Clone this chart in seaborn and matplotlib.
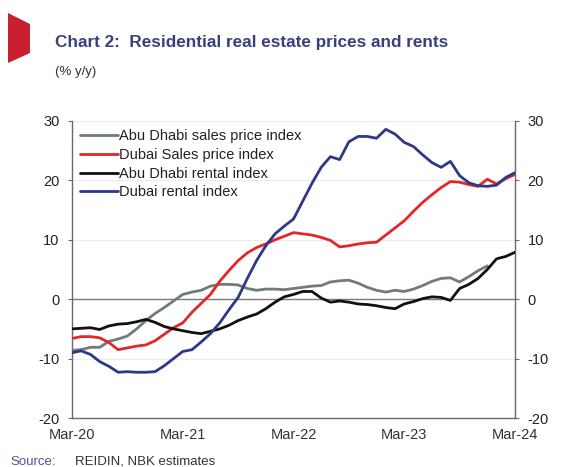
import matplotlib
matplotlib.use("Agg")
import matplotlib.pyplot as plt
from matplotlib.patches import Polygon
import numpy as np
import pandas as pd
import seaborn as sns

sns.set_style("white")
plt.rcParams['font.family'] = ['Liberation Sans', 'DejaVu Sans']
plt.rcParams['axes.unicode_minus'] = False

# Monthly, Mar-20 .. Mar-24 (49 months)
tick_labels = ["Mar-20", "Mar-21", "Mar-22", "Mar-23", "Mar-24"]

abu_dhabi_sales = [-8.6, -8.5, -8.1, -8.1, -7.1, -6.7, -6.2, -5.0, -3.6, -2.4,
                   -1.4, -0.3, 0.8, 1.2, 1.5, 2.2, 2.5, 2.5, 2.4, 1.8,
                   1.5, 1.7, 1.7, 1.6, 1.8, 2.0, 2.2, 2.3, 2.9, 3.1,
                   3.2, 2.7, 2.0, 1.5, 1.2, 1.5, 1.3, 1.7, 2.3, 3.0,
                   3.5, 3.6, 2.9, 3.8, 4.8, 5.6]
dubai_sales = [-6.6, -6.3, -6.3, -6.5, -7.3, -8.5, -8.2, -7.9, -7.7, -7.0,
               -5.9, -4.8, -4.0, -2.2, -0.7, 0.8, 3.0, 4.8, 6.5, 7.8,
               8.7, 9.3, 10.0, 10.6, 11.2, 11.0, 10.8, 10.4, 9.9, 8.8,
               9.0, 9.3, 9.5, 9.6, 10.8, 12.0, 13.2, 14.8, 16.3, 17.6,
               18.8, 19.8, 19.7, 19.3, 19.0, 20.2, 19.4, 20.3, 21.0]
abu_dhabi_rent = [-5.0, -4.9, -4.8, -5.1, -4.5, -4.2, -4.1, -3.8, -3.4, -3.9,
                  -4.6, -5.0, -5.3, -5.6, -5.8, -5.4, -5.0, -4.4, -3.6, -3.0,
                  -2.5, -1.6, -0.5, 0.4, 0.8, 1.3, 1.3, 0.2, -0.5, -0.3,
                  -0.5, -0.8, -0.9, -1.1, -1.4, -1.6, -0.8, -0.4, 0.1, 0.4,
                  0.3, -0.2, 1.8, 2.5, 3.5, 5.0, 6.8, 7.2, 7.9]
dubai_rent = [-9.0, -8.7, -9.3, -10.5, -11.3, -12.3, -12.2, -12.3, -12.3, -12.2,
              -11.2, -10.0, -8.8, -8.5, -7.2, -5.8, -4.0, -1.8, 0.3, 3.5,
              6.5, 9.0, 11.0, 12.3, 13.5, 16.5, 19.5, 22.2, 24.0, 23.5,
              26.5, 27.4, 27.4, 27.1, 28.6, 27.8, 26.4, 25.7, 24.3, 23.0,
              22.2, 23.2, 20.8, 19.6, 19.1, 19.0, 19.2, 20.5, 21.3]

names = ["Abu Dhabi sales price index", "Dubai Sales price index",
         "Abu Dhabi rental index", "Dubai rental index"]
series = [abu_dhabi_sales, dubai_sales, abu_dhabi_rent, dubai_rent]
colors = ["#6e7d76", "#e3262b", "#111111", "#2d3888"]

frames = []
for n, s in zip(names, series):
    frames.append(pd.DataFrame({"month": np.arange(len(s)), "value": s, "series": n}))
df = pd.concat(frames, ignore_index=True)

fig = plt.figure(figsize=(5.63, 4.67), dpi=100)
ax = fig.add_axes([72/563, 1-418/467, (515-72)/563, (418-121)/467])

for y in [-10, 10, 20, 30]:
    ax.axhline(y, color="#ececec", lw=0.8, zorder=0)
ax.axhline(0, color="#7a7a7a", lw=1.0, zorder=1)

sns.lineplot(data=df, x="month", y="value", hue="series", hue_order=names,
             palette=colors, linewidth=2.0, ax=ax, legend=True, zorder=3)

ax.set_xlim(0, 48)
ax.set_ylim(-20, 30)
ax.set_xticks([0, 12, 24, 36, 48])
ax.set_xticklabels(tick_labels)
ax.set_yticks([-20, -10, 0, 10, 20, 30])
ax.set_xlabel("")
ax.set_ylabel("")
ax.spines["top"].set_visible(False)
for sp in ["left", "right", "bottom"]:
    ax.spines[sp].set_color("#6a6a6a")
    ax.spines[sp].set_linewidth(1.0)
ax.tick_params(axis="y", which="both", left=True, right=True, labelleft=True,
               labelright=True, length=3, color="#6a6a6a", labelsize=10.5,
               labelcolor="#222222", direction="out", pad=6)
ax.tick_params(axis="x", length=0, labelsize=10.5, labelcolor="#333333", pad=7)

leg = ax.legend(loc="upper left", frameon=False, fontsize=10.5, handlelength=2.6,
                handletextpad=0.1, labelspacing=0.33, borderaxespad=0.15,
                bbox_to_anchor=(0.0, 1.0))
for t in leg.get_texts():
    t.set_color("#222222")

# decorative red marker
fig.patches.append(Polygon([[8/563, 1-13/467], [30/563, 1-24/467], [30/563, 1-53/467],
                            [8/563, 1-63/467]], closed=True, transform=fig.transFigure,
                           facecolor="#c8202f", edgecolor="none"))

fig.text(55/563, 1-43/467, "Chart 2:  Residential real estate prices and rents",
         fontsize=12.3, fontweight="bold", color="#3b3f7c", va="center", ha="left")
fig.text(55/563, 1-72/467, "(% y/y)", fontsize=9.5, color="#333333",
         va="center", ha="left")
fig.text(10/563, 1-462/467, "Source:", fontsize=9.5, color="#4a53a0",
         va="center", ha="left")
fig.text(75/563, 1-462/467, "REIDIN, NBK estimates", fontsize=9.5, color="#333333",
         va="center", ha="left")

fig.savefig("out.png", dpi=100)
